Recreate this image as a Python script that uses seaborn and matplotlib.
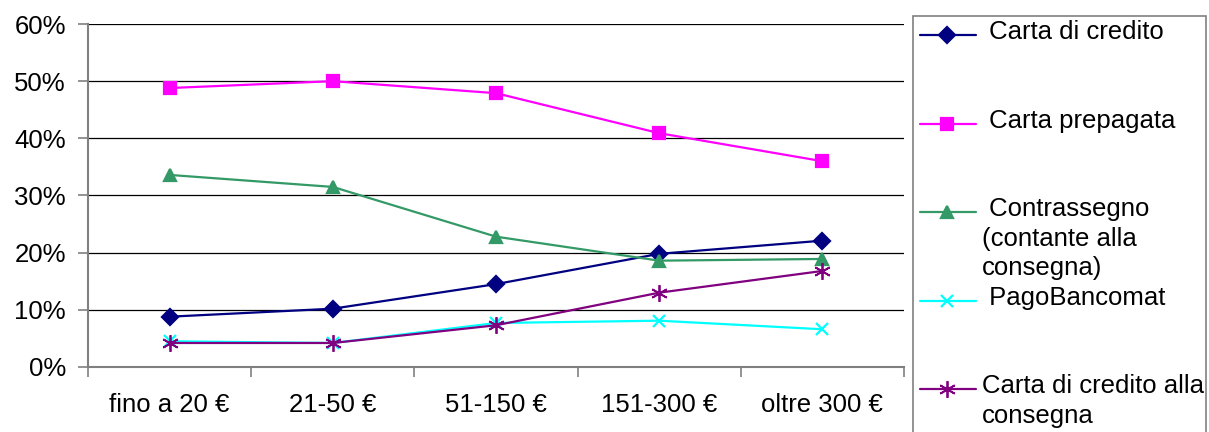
import matplotlib
matplotlib.use("Agg")
import matplotlib.pyplot as plt
import seaborn as sns
import pandas as pd
from matplotlib.ticker import PercentFormatter, FixedLocator, NullFormatter
from matplotlib.lines import Line2D
from matplotlib.patches import Rectangle

# fasce di spesa
fasce = ["fino a 20 €", "21-50 €", "51-150 €", "151-300 €", "oltre 300 €"]

carta_credito = [0.088, 0.102, 0.145, 0.198, 0.221]
carta_prepagata = [0.488, 0.500, 0.479, 0.409, 0.360]
contrassegno = [0.336, 0.315, 0.228, 0.186, 0.189]
pago_bancomat = [0.045, 0.042, 0.077, 0.081, 0.066]
credito_consegna = [0.042, 0.042, 0.073, 0.130, 0.168]

etichette = [" Carta di credito", " Carta prepagata",
             " Contrassegno\n(contante alla\nconsegna)", " PagoBancomat",
             "Carta di credito alla\nconsegna"]
colori = ["#000080", "#FF00FF", "#339966", "#00FFFF", "#800080"]
marker = ["D", "s", "^", "x", (6, 2, 0)]
msize = [8, 8, 9, 9, 12]
mew = [1.6, 1.6, 1.6, 1.6, 1.3]

serie = [carta_credito, carta_prepagata, contrassegno, pago_bancomat, credito_consegna]

sns.set_style("white")
plt.rcParams["font.family"] = ["Liberation Sans", "DejaVu Sans"]
plt.rcParams["text.color"] = "black"

FS = 18.5
W, H = 1209, 432
fig = plt.figure(figsize=(W / 100, H / 100), dpi=100)
ax = fig.add_axes([88 / W, 1 - 367 / H, (904 - 88) / W, (367 - 24) / H])

for valori, col, mk, ms, ew in zip(serie, colori, marker, msize, mew):
    df = pd.DataFrame({"fascia": fasce, "quota": valori})
    sns.lineplot(data=df, x="fascia", y="quota", color=col, marker=mk,
                 markersize=ms, markeredgecolor=col, markerfacecolor=col,
                 markeredgewidth=ew, linewidth=1.6, sort=False, ax=ax)

ax.set_ylim(0, 0.6)
ax.set_xlim(-0.5, 4.5)
ax.set_xlabel("")
ax.set_ylabel("")
ax.yaxis.set_major_formatter(PercentFormatter(1.0, decimals=0))
ax.set_yticks([0, 0.1, 0.2, 0.3, 0.4, 0.5, 0.6])
ax.yaxis.grid(True, color="black", linewidth=0.9)
ax.set_axisbelow(True)

# tacche ai confini delle categorie, etichette al centro
ax.xaxis.set_major_locator(FixedLocator([-0.5, 0.5, 1.5, 2.5, 3.5, 4.5]))
ax.xaxis.set_major_formatter(NullFormatter())
ax.xaxis.set_minor_locator(FixedLocator(range(len(fasce))))
ax.set_xticklabels(fasce, minor=True)
ax.tick_params(axis="x", which="major", direction="out", length=7, width=1.2, color="#808080", bottom=True)
ax.tick_params(axis="x", which="minor", length=0, pad=19, labelsize=FS, labelcolor="black")
ax.tick_params(axis="y", direction="out", length=7, width=1.2, color="#808080", left=True, pad=9,
               labelsize=FS, labelcolor="black")

for s in ["top", "right"]:
    ax.spines[s].set_visible(False)
for s in ["left", "bottom"]:
    ax.spines[s].set_color("#808080")
    ax.spines[s].set_linewidth(1.5)


def px(x, y):
    return x / W, 1 - y / H


# legenda
x0, y0 = px(913, 16)
x1, y1 = px(1206, 445)
fig.patches.append(Rectangle((x0, y1), x1 - x0, y0 - y1, transform=fig.transFigure,
                             fill=False, edgecolor="#808080", linewidth=1.2))
righe = [35, 124, 212, 301, 389]
for lab, col, mk, ms, ew, yy in zip(etichette, colori, marker, msize, mew, righe):
    lx0, ly = px(920, yy)
    lx1, _ = px(976, yy)
    fig.lines.append(Line2D([lx0, lx1], [ly, ly], transform=fig.transFigure,
                            color=col, linewidth=1.6))
    mx, _ = px(947, yy)
    fig.lines.append(Line2D([mx], [ly], transform=fig.transFigure, color=col,
                            marker=mk, markersize=ms, markeredgecolor=col,
                            markerfacecolor=col, markeredgewidth=ew))
    tx, ty = px(982, yy - 15)
    fig.text(tx, ty, lab, fontsize=FS, va="top", ha="left", linespacing=1.3)

fig.savefig("out.png", dpi=100)
